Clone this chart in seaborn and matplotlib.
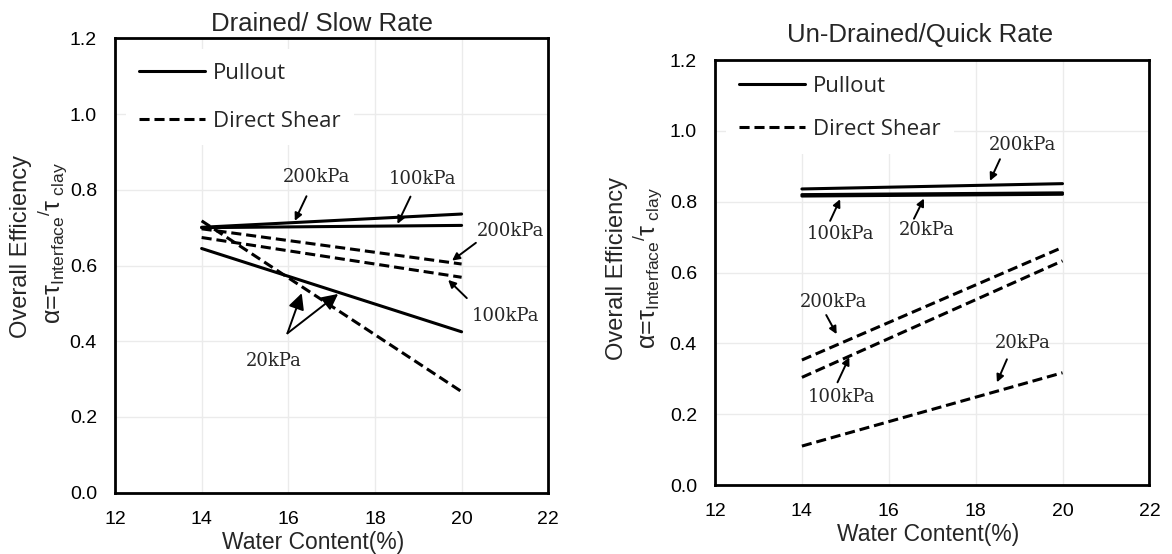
import matplotlib
matplotlib.use("Agg")
import matplotlib.pyplot as plt
from matplotlib.lines import Line2D
import pandas as pd
import seaborn as sns

# Water content at which each efficiency line is reported (%)
water_content = [14, 20]

# Drained / slow rate: interface efficiency alpha
drained_pullout_200 = [0.701, 0.736]
drained_pullout_100 = [0.700, 0.706]
drained_pullout_20 = [0.645, 0.425]
drained_shear_200 = [0.697, 0.604]
drained_shear_100 = [0.674, 0.569]
drained_shear_20 = [0.718, 0.267]

# Un-drained / quick rate: interface efficiency alpha
undrained_pullout_200 = [0.836, 0.851]
undrained_pullout_100 = [0.816, 0.821]
undrained_pullout_20 = [0.820, 0.825]
undrained_shear_200 = [0.353, 0.671]
undrained_shear_100 = [0.304, 0.633]
undrained_shear_20 = [0.110, 0.317]

test_types = ["Pullout", "Direct Shear"]
panel_titles = ["Drained/ Slow Rate", "Un-Drained/Quick Rate"]
x_ticks = [12, 14, 16, 18, 20, 22]
y_ticks = [0.0, 0.2, 0.4, 0.6, 0.8, 1.0, 1.2]

series = [
    ("drained", "Pullout", "200kPa", drained_pullout_200),
    ("drained", "Pullout", "100kPa", drained_pullout_100),
    ("drained", "Pullout", "20kPa", drained_pullout_20),
    ("drained", "Direct Shear", "200kPa", drained_shear_200),
    ("drained", "Direct Shear", "100kPa", drained_shear_100),
    ("drained", "Direct Shear", "20kPa", drained_shear_20),
    ("undrained", "Pullout", "200kPa", undrained_pullout_200),
    ("undrained", "Pullout", "100kPa", undrained_pullout_100),
    ("undrained", "Pullout", "20kPa", undrained_pullout_20),
    ("undrained", "Direct Shear", "200kPa", undrained_shear_200),
    ("undrained", "Direct Shear", "100kPa", undrained_shear_100),
    ("undrained", "Direct Shear", "20kPa", undrained_shear_20),
]
rows = []
for cond, test, p, vals in series:
    for w, a in zip(water_content, vals):
        rows.append({"condition": cond, "test": test, "pressure": p,
                     "water": w, "alpha": a})
df = pd.DataFrame(rows)

sns.set_theme(style="white")
plt.rcParams["font.family"] = ["Liberation Sans", "DejaVu Sans"]
plt.rcParams["mathtext.fontset"] = "custom"
plt.rcParams["mathtext.rm"] = "Liberation Sans"
plt.rcParams["mathtext.it"] = "Liberation Sans:italic"
plt.rcParams["mathtext.bf"] = "Liberation Sans:bold"

LW = 2.2
DASH = (3.3, 1.6)

fig = plt.figure(figsize=(11.72, 5.54), dpi=100)
ax_d = fig.add_axes([0.0981, 0.1106, 0.3697, 0.8202])
ax_u = fig.add_axes([0.6101, 0.1245, 0.3706, 0.7671])

for ax, cond in [(ax_d, "drained"), (ax_u, "undrained")]:
    sub = df[df["condition"] == cond]
    sns.lineplot(data=sub, x="water", y="alpha", style="test", units="pressure",
                 estimator=None, color="black", linewidth=LW,
                 dashes={"Pullout": "", "Direct Shear": DASH},
                 style_order=test_types, legend=False, ax=ax, zorder=3)
    ax.set_xlim(12, 22)
    ax.set_ylim(0, 1.2)
    ax.set_xticks(x_ticks)
    ax.set_yticks(y_ticks)
    ax.set_yticklabels([f"{v:.1f}" for v in y_ticks])
    ax.grid(True, color="#ebebeb", linewidth=1.0, zorder=0)
    ax.set_axisbelow(True)
    for s in ax.spines.values():
        s.set_color("black")
        s.set_linewidth(2.0)
    ax.tick_params(direction="in", length=4, width=1.5, color="black",
                   labelsize=14, pad=13, labelcolor="black")
    ax.set_ylabel("")

# Titles and axis labels
ax_d.set_title(panel_titles[0], fontsize=18.5, pad=5, x=0.478)
ax_u.set_title(panel_titles[1], fontsize=18.5, pad=13, x=0.472)
ax_d.set_xlabel("Water Content(%)", fontsize=16.5, labelpad=2, x=0.458)
ax_u.set_xlabel("Water Content(%)", fontsize=16.5, labelpad=2, x=0.49)

ylab2 = r"α=τ$_{\mathrm{Interface}}$$^{/}$τ$_{\mathrm{\ clay}}$"
for (x1, y1, x2, y2) in [(21, 246, 52, 243), (617, 268, 647, 268)]:
    fig.text(x1 / 1172, 1 - y1 / 554, "Overall Efficiency", rotation=90,
             ha="center", va="center", fontsize=17)
    fig.text(x2 / 1172, 1 - y2 / 554, ylab2, rotation=90,
             ha="center", va="center", fontsize=18)

# Legends
handles = [Line2D([], [], color="black", lw=LW),
           Line2D([], [], color="black", lw=LW, dashes=DASH)]
for ax, spacing, anchor in [(ax_d, 1.23, (0.0, 1.0)), (ax_u, 1.02, (0.0, 1.021))]:
    leg = ax.legend(handles, test_types, loc="upper left", bbox_to_anchor=anchor,
                    frameon=True, facecolor="white", edgecolor="none",
                    framealpha=1.0, handlelength=2.95, handletextpad=0.35,
                    labelspacing=spacing, borderpad=0.6,
                    prop={"family": "Open Sans", "size": 16})
    leg.set_zorder(2)

# Pressure annotations
ann_font = {"family": "DejaVu Serif", "size": 13}


def label(ax, text, pos):
    ax.text(pos[0], pos[1], text, ha="center", va="center", **ann_font, zorder=5)


def arrow(ax, start, tip, scale=11):
    ax.annotate("", xy=tip, xytext=start,
                arrowprops=dict(arrowstyle="-|>", color="black", lw=1.4,
                                mutation_scale=scale, shrinkA=0, shrinkB=0),
                zorder=5)


label(ax_d, "200kPa", (16.64, 0.834))
arrow(ax_d, (16.42, 0.783), (16.15, 0.718))
label(ax_d, "100kPa", (19.10, 0.828))
arrow(ax_d, (18.82, 0.782), (18.52, 0.710))
label(ax_d, "200kPa", (21.13, 0.692))
arrow(ax_d, (20.33, 0.660), (19.78, 0.613))
label(ax_d, "100kPa", (21.02, 0.467))
arrow(ax_d, (20.12, 0.514), (19.69, 0.562))
label(ax_d, "20kPa", (15.67, 0.349))
arrow(ax_d, (15.98, 0.421), (16.31, 0.527), scale=24)
arrow(ax_d, (15.98, 0.421), (17.15, 0.525), scale=24)

label(ax_u, "200kPa", (19.08, 0.960))
arrow(ax_u, (18.56, 0.920), (18.33, 0.859))
label(ax_u, "100kPa", (14.89, 0.709))
arrow(ax_u, (14.65, 0.746), (14.88, 0.807))
label(ax_u, "20kPa", (16.87, 0.720))
arrow(ax_u, (16.58, 0.752), (16.81, 0.809))
label(ax_u, "200kPa", (14.72, 0.518))
arrow(ax_u, (14.56, 0.480), (14.80, 0.426))
label(ax_u, "100kPa", (14.92, 0.249))
arrow(ax_u, (14.82, 0.290), (15.09, 0.361))
label(ax_u, "20kPa", (19.08, 0.400))
arrow(ax_u, (18.72, 0.355), (18.49, 0.290))

fig.savefig("out.png", dpi=100)
